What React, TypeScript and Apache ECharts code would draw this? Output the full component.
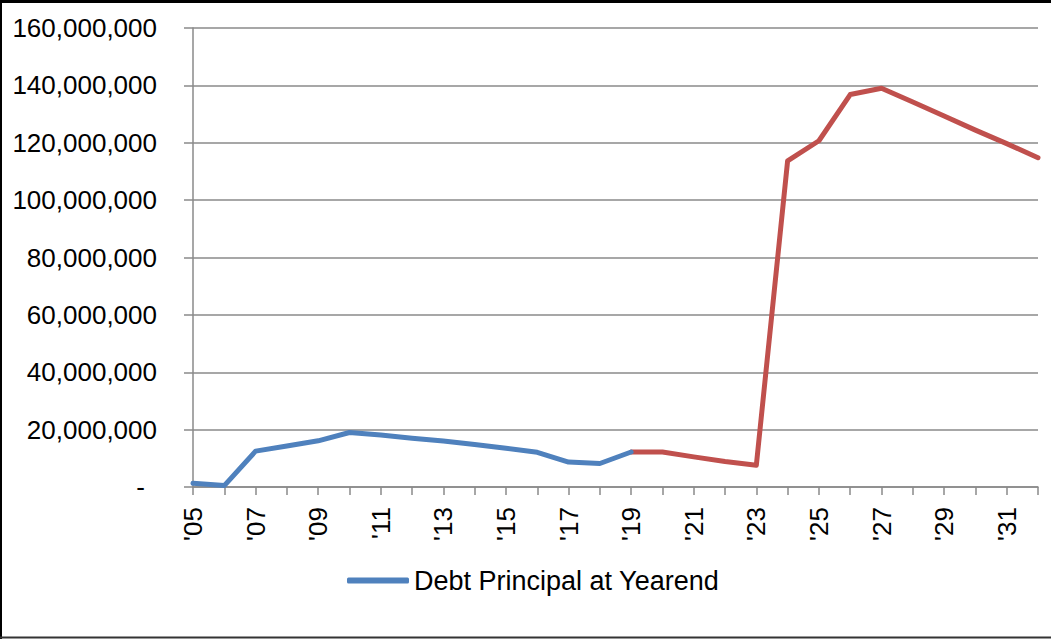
import React, { useEffect, useRef } from "react";
import * as echarts from "echarts";

const years = ["'05","'06","'07","'08","'09","'10","'11","'12","'13","'14","'15","'16","'17","'18","'19","'20","'21","'22","'23","'24","'25","'26","'27","'28","'29","'30","'31","'32"];
const historical = [1300000, 500000, 12500000, 14300000, 16100000, 19000000, 18100000, 17000000, 16000000, 14800000, 13500000, 12100000, 8700000, 8200000, 12200000, null, null, null, null, null, null, null, null, null, null, null, null, null];
const projected = [null, null, null, null, null, null, null, null, null, null, null, null, null, null, 12200000, 12200000, 10500000, 8900000, 7600000, 113700000, 120700000, 136800000, 139000000, 134200000, 129300000, 124400000, 119700000, 114800000];
const legendName = "Debt Principal at Yearend";

export default function App() {
  const ref = useRef<HTMLDivElement>(null);
  useEffect(() => {
    const chart = echarts.init(ref.current!, null, { renderer: "svg" });
    const font = "'Liberation Sans', Arial, sans-serif";
    const gray = "#8a8a8a";
    chart.setOption({
      animation: false,
      backgroundColor: "#ffffff",
      textStyle: { fontFamily: font },
      grid: { left: 193, right: 13, top: 28, bottom: 152 },
      legend: {
        data: [{ name: legendName, icon: "roundRect" }],
        bottom: 40,
        left: 342,
        itemWidth: 62,
        itemHeight: 6,
        itemGap: 11,
        textStyle: { fontFamily: font, fontSize: 27, color: "#000" },
      },
      xAxis: {
        type: "category",
        data: years,
        boundaryGap: false,
        axisLine: { lineStyle: { color: gray, width: 1.5 } },
        axisTick: { show: true, interval: 0, length: 8, lineStyle: { color: gray, width: 1.5 } },
        axisLabel: { interval: 1, rotate: 90, margin: 20, fontSize: 26, color: "#000", fontFamily: font },
        splitLine: { show: false },
      },
      yAxis: {
        type: "value",
        min: 0,
        max: 160000000,
        interval: 20000000,
        axisLine: { show: true, lineStyle: { color: gray, width: 1.5 } },
        axisTick: { show: true, length: 9, lineStyle: { color: gray, width: 1.5 } },
        axisLabel: {
          margin: 36,
          fontSize: 26,
          color: "#000",
          fontFamily: font,
          formatter: (v: number) => (v === 0 ? "{d|-}" : v.toLocaleString("en-US")),
          rich: { d: { fontSize: 26, color: "#000", fontFamily: font, padding: [0, 12, 0, 0] } },
        },
        splitLine: { show: true, lineStyle: { color: gray, width: 1.5 } },
      },
      series: [
        {
          name: legendName,
          type: "line",
          data: historical,
          showSymbol: false,
          symbol: "none",
          color: "#4F81BD",
          lineStyle: { color: "#4F81BD", width: 5, cap: "round", join: "round" },
          z: 3,
        },
        {
          name: "Projected",
          type: "line",
          data: projected,
          showSymbol: false,
          symbol: "none",
          color: "#C0504D",
          lineStyle: { color: "#C0504D", width: 5, cap: "round", join: "round" },
          z: 2,
        },
      ],
      graphic: [
        { type: "rect", shape: { x: 0, y: 0, width: 1051, height: 3 }, style: { fill: "#000" }, silent: true },
        { type: "rect", shape: { x: 0, y: 0, width: 2, height: 639 }, style: { fill: "#000" }, silent: true },
        { type: "rect", shape: { x: 0, y: 636.5, width: 1051, height: 2 }, style: { fill: "#333" }, silent: true },
      ],
    });
    return () => chart.dispose();
  }, []);
  return (
    <div style={{ position: "fixed", left: 0, top: 0, width: 1051, height: 639, background: "#fff" }}>
      <div ref={ref} style={{ width: 1051, height: 639 }} />
    </div>
  );
}
